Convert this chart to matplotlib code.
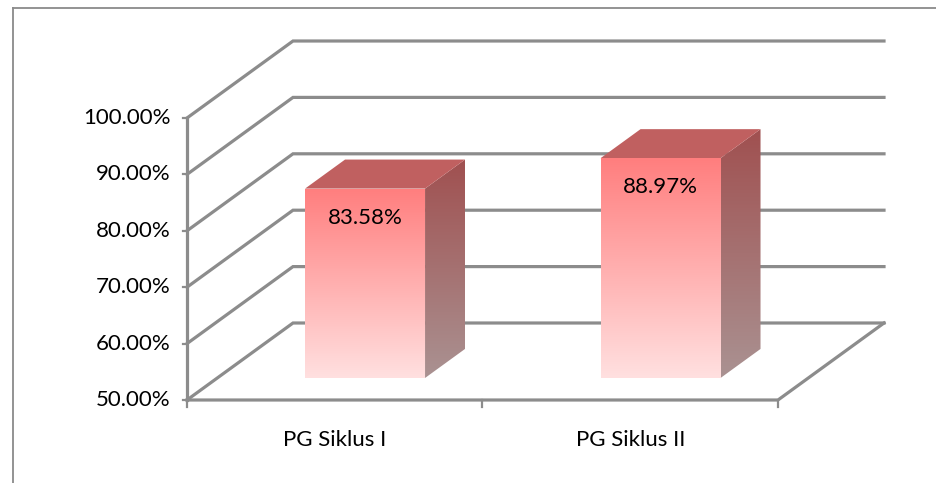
import numpy as np
import matplotlib
matplotlib.use("Agg")
import matplotlib.pyplot as plt
from matplotlib.patches import Polygon
from matplotlib.lines import Line2D

# ---- data ----
categories = ["PG Siklus I", "PG Siklus II"]
values = [83.58, 88.97]
y_ticks = [50, 60, 70, 80, 90, 100]
y_tick_labels = ["50.00%", "60.00%", "70.00%", "80.00%", "90.00%", "100.00%"]

plt.rcParams['font.family'] = ['Lato', 'DejaVu Sans']
FS = 16

W, H = 937, 483
fig = plt.figure(figsize=(W / 100, H / 100), dpi=100)
ax = fig.add_axes([0, 0, 1, 1])

# pixel-based scale for the front plane
x0_px, xscale = 187.0, 295.5          # category unit -> px
y50_px_from_bottom, yscale = 83.0, 5.64   # percent -> px
xlim = (-x0_px / xscale, (W - x0_px) / xscale)
ylo = 50 - y50_px_from_bottom / yscale
ylim = (ylo, ylo + H / yscale)

DX = 106.0 / xscale      # depth offset in category units
DY = 77.0 / yscale       # depth offset in percent units
VMIN, VMAX = 50, 100


def P(x, v, d):
    return (x + d * DX, v + d * DY)


grid_c = "#8c8c8c"
lw = 2.3

ncat = len(categories)

# back wall gridlines + left wall diagonals
for v, lab in zip(y_ticks, y_tick_labels):
    a = P(0, v, 0); b = P(0, v, 1); c = P(ncat, v, 1)
    ax.add_line(Line2D([a[0], b[0], c[0]], [a[1], b[1], c[1]], color=grid_c, lw=lw,
                       solid_joinstyle='miter', zorder=1))
    t0 = (a[0] - 4 / xscale, a[1])
    ax.add_line(Line2D([t0[0], a[0]], [a[1], a[1]], color=grid_c, lw=1.6, zorder=1))
    ax.annotate(lab, xy=a, xytext=(-12, 0),
                textcoords='offset points', ha='right', va='center',
                fontsize=FS, color='black')

# front axis
a = P(0, VMIN, 0); b = P(0, VMAX, 0)
ax.add_line(Line2D([a[0], b[0]], [a[1], b[1]], color=grid_c, lw=lw, zorder=1))
# floor front and right edges
f0 = P(0, VMIN, 0); f1 = P(ncat, VMIN, 0); f2 = P(ncat, VMIN, 1)
ax.add_line(Line2D([f0[0], f1[0], f2[0]], [f0[1], f1[1], f2[1]], color=grid_c, lw=lw,
                   solid_joinstyle='miter', zorder=1))
# category ticks
for i in range(ncat + 1):
    p = P(i, VMIN, 0)
    ax.add_line(Line2D([p[0], p[0]], [p[1], p[1] - 7 / yscale], color=grid_c, lw=1.6, zorder=1))

# bars
d0, d1 = 0.286, 0.663
bw = 0.406


def grad_fill(poly_pts, top_rgb, bot_rgb, z):
    pts = np.array(poly_pts)
    xmin, xmax = pts[:, 0].min(), pts[:, 0].max()
    ymin, ymax = pts[:, 1].min(), pts[:, 1].max()
    t = np.linspace(0, 1, 256)[:, None]
    top = np.array(top_rgb) / 255.0
    bot = np.array(bot_rgb) / 255.0
    img = (top[None, :] * (1 - t) + bot[None, :] * t)[:, None, :]
    im = ax.imshow(img, extent=[xmin, xmax, ymin, ymax], origin='upper',
                   aspect='auto', zorder=z, interpolation='bilinear')
    patch = Polygon(pts, closed=True, facecolor='none', edgecolor='none', transform=ax.transData)
    im.set_clip_path(patch)


for i, (cat, v) in enumerate(zip(categories, values)):
    xl = i + 0.5 - bw / 2
    xr = i + 0.5 + bw / 2
    front = [P(xl, VMIN, d0), P(xr, VMIN, d0), P(xr, v, d0), P(xl, v, d0)]
    side = [P(xr, VMIN, d0), P(xr, VMIN, d1), P(xr, v, d1), P(xr, v, d0)]
    top = [P(xl, v, d0), P(xr, v, d0), P(xr, v, d1), P(xl, v, d1)]
    grad_fill(side, (160, 80, 80), (170, 146, 146), 3)
    ax.add_patch(Polygon(top, closed=True, facecolor='#c06060', edgecolor='none', zorder=3))
    grad_fill(front, (255, 126, 126), (255, 224, 224), 4)
    ax.annotate(f"{v:.2f}%", xy=P(i + 0.5, v, d0), xytext=(0, -21),
                textcoords='offset points', ha='center', va='center',
                fontsize=FS, color='black', zorder=6)
    ax.annotate(cat, xy=P(i + 0.5, VMIN, 0), xytext=(0, -29),
                textcoords='offset points', ha='center', va='center',
                fontsize=FS, color='black')

ax.set_xlim(*xlim)
ax.set_ylim(*ylim)
ax.axis('off')

# outer chart frame (left and top edges visible)
fig.add_artist(Line2D([12.5 / W, 12.5 / W], [0, 1 - 7.5 / H], transform=fig.transFigure,
                      color='#8a8a8a', lw=1.3))
fig.add_artist(Line2D([12.5 / W, 1], [1 - 7.5 / H, 1 - 7.5 / H], transform=fig.transFigure,
                      color='#8a8a8a', lw=1.3))

fig.savefig("out.png", dpi=100)
